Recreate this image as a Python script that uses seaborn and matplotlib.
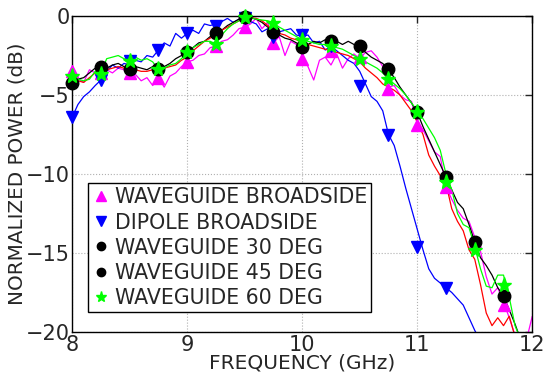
import numpy as np
import matplotlib
matplotlib.use("Agg")
import matplotlib.pyplot as plt
from matplotlib.lines import Line2D
import seaborn as sns

# frequency sweep (GHz), 50 MHz step
freq = np.round(np.arange(8.0, 12.001, 0.05), 2)

# normalized power (dB)
magenta_bs = [
    -3.5, -4.0, -4.2, -3.4, -3.6, -3.3, -3.4, -3.6, -3.3, -3.4,
    -3.8, -3.7, -4.1, -3.9, -4.4, -3.9, -4.5, -3.8, -3.6, -3.2,
    -2.9, -2.8, -2.5, -2.4, -2.0, -1.9, -1.6, -1.5, -1.2, -0.8,
    -0.7, -0.5, -0.15, -0.8, -0.4, -1.7, -1.3, -2.5, -1.6, -1.8,
    -2.5, -3.2, -4.05, -2.8, -2.6, -3.1, -2.4, -3.3, -2.7, -2.4,
    -2.7, -2.3, -2.2, -2.6, -3.2, -4.5, -4.4, -5.0, -5.3, -5.4,
    -6.8, -7.2, -7.9, -8.6, -8.9, -10.8, -11.6, -12.3, -12.8, -13.0,
    -14.0, -14.9, -16.5, -17.6, -17.2, -18.1, -19.1, -20.2, -20.8, -20.5,
    -19.0]
blue_dp = [
    -6.4, -5.6, -5.1, -4.8, -4.4, -4.05, -3.5, -3.1, -3.3, -3.0,
    -3.1, -2.8, -2.9, -2.5, -2.6, -2.15, -1.7, -1.9, -1.1, -1.4,
    -1.1, -0.9, -1.1, -0.5, -0.6, -0.5, -0.35, -0.15, -0.4, -0.2,
    -0.1, -0.35, -0.5, -1.0, -0.8, -1.4, -1.0, -0.9, -0.8, -1.2,
    -1.3, -1.2, -1.7, -1.6, -2.15, -1.9, -2.2, -2.5, -2.8, -3.0,
    -3.5, -4.3, -5.1, -5.4, -6.0, -7.5, -8.2, -9.5, -10.9, -12.2,
    -13.5, -14.8, -16.0, -16.6, -16.9, -17.2, -17.5, -17.9, -18.3, -19.1,
    -19.9, -20.6]
black_30 = [
    -4.2, -4.0, -3.9, -3.6, -3.3, -3.2, -3.3, -3.1, -3.0, -3.2,
    -3.4, -3.2, -3.3, -3.4, -3.2, -3.4, -3.2, -3.0, -2.7, -2.5,
    -2.3, -2.0, -1.7, -1.6, -1.3, -1.1, -0.9, -0.6, -0.4, -0.2,
    -0.1, -0.1, -0.2, -0.4, -0.7, -1.0, -1.2, -1.4, -1.5, -1.7,
    -1.9, -1.8, -1.6, -1.7, -1.5, -1.7, -1.6, -1.8, -1.6, -1.8,
    -1.9, -2.3, -2.6, -2.8, -3.0, -3.4, -3.9, -4.5, -5.0, -5.5,
    -6.1, -7.0, -7.8, -8.6, -9.4, -10.2, -11.0, -11.8, -12.2, -13.2,
    -14.3, -15.3, -15.8, -16.4, -17.2, -17.7, -18.6, -19.5, -20.5]
red_45 = [
    -3.8, -4.1, -4.2, -3.9, -3.6, -3.5, -3.4, -3.3, -3.2, -3.3,
    -3.4, -3.4, -3.5, -3.5, -3.4, -3.4, -3.3, -3.2, -3.1, -2.8,
    -2.6, -2.2, -1.9, -1.6, -1.4, -1.1, -0.9, -0.7, -0.5, -0.3,
    -0.15, -0.1, -0.15, -0.3, -0.6, -1.0, -1.1, -1.2, -1.4, -1.5,
    -1.7, -1.8, -1.9, -2.0, -2.1, -2.2, -2.3, -2.4, -2.5, -2.7,
    -2.9, -3.3, -3.6, -3.9, -4.3, -4.5, -4.7, -5.0, -5.5, -6.0,
    -6.7, -7.5, -8.8, -9.5, -10.1, -10.6, -12.2, -13.0, -13.6, -14.8,
    -15.4, -17.0, -18.8, -19.6, -19.1, -19.6, -19.0, -20.3]
green_60 = [
    -3.8, -4.0, -4.1, -4.0, -3.5, -3.6, -2.7, -2.6, -2.5, -2.7,
    -2.8, -2.6, -2.8, -2.7, -2.9, -3.4, -3.3, -3.1, -3.0, -2.7,
    -2.3, -2.0, -1.8, -1.6, -1.6, -1.8, -1.2, -0.8, -0.5, -0.3,
    -0.1, -0.1, -0.2, -0.25, -0.3, -0.45, -0.7, -0.9, -1.1, -1.3,
    -1.5, -1.6, -1.7, -1.8, -1.8, -1.9, -2.0, -2.1, -2.3, -2.5,
    -2.7, -2.9, -3.1, -3.3, -3.6, -4.0, -4.3, -4.6, -5.0, -5.5,
    -6.0, -6.5, -7.1, -7.7, -8.5, -10.0, -11.0, -12.5, -13.2, -13.4,
    -14.6, -16.0, -17.1, -17.2, -16.4, -16.4, -17.8, -19.6, -20.5]

# marker points every 250 MHz
mk_freq = [8.0, 8.25, 8.5, 8.75, 9.0, 9.25, 9.5, 9.75,
           10.0, 10.25, 10.5, 10.75, 11.0, 11.25, 11.5, 11.75]
mk_magenta = [-3.5, -3.6, -3.6, -3.9, -2.9, -1.9, -0.7, -1.7,
              -2.7, -2.2, -2.6, -4.6, -6.9, -10.8, -14.3, -18.3]
mk_blue = [-6.4, -4.05, -2.85, -2.15, -1.1, -0.6, -0.1, -1.3,
           -1.2, -1.9, -4.4, -7.5, -14.6, -17.2]
mk_black = [-4.26, -3.2, -3.37, -3.37, -2.26, -1.1, -0.08, -1.0,
            -1.94, -1.6, -1.9, -3.37, -6.1, -10.2, -14.3, -17.7]
mk_green = [-3.8, -3.67, -2.85, -3.37, -2.26, -1.8, -0.04, -0.46,
            -1.5, -1.9, -2.7, -4.0, -6.06, -10.5, -14.8, -17.0]

labels = ["WAVEGUIDE BROADSIDE", "DIPOLE BROADSIDE", "WAVEGUIDE 30 DEG",
          "WAVEGUIDE 45 DEG", "WAVEGUIDE 60 DEG"]

sns.set_style("white")
plt.rcParams["font.family"] = ["DejaVu Sans"]

fig = plt.figure(figsize=(5.51, 3.73), dpi=100)
ax = fig.add_axes([0.131, 0.110, 0.835, 0.847])

lw = 0.9
for y, c in [(magenta_bs, "#ff00ff"), (blue_dp, "#0000ff"), (black_30, "black"),
             (red_45, "#ff0000"), (green_60, "#00ff00")]:
    sns.lineplot(x=freq[:len(y)], y=y, color=c, linewidth=lw, ax=ax,
                 estimator=None, sort=False)

ax.plot(mk_freq, mk_magenta, "^", color="#ff00ff", ms=9, clip_on=False, zorder=4)
ax.plot(mk_freq[:len(mk_blue)], mk_blue, "v", color="#0000ff", ms=9, clip_on=False, zorder=4)
ax.plot(mk_freq, mk_black, "o", color="black", ms=9, clip_on=False, zorder=5)
ax.plot(mk_freq, mk_green, "*", color="#00ff00", ms=11, clip_on=False, zorder=6)

ax.set_xlim(8, 12)
ax.set_ylim(-20, 0)
ax.set_xticks([8, 9, 10, 11, 12])
ax.set_yticks([-20, -15, -10, -5, 0])
ax.grid(True, linestyle=":", color="#b0b0b0", linewidth=0.8)
ax.tick_params(direction="in", length=5, width=1, labelsize=15,
               top=True, right=True, pad=2)
for s in ax.spines.values():
    s.set_color("black")
    s.set_linewidth(1)

ax.set_xlabel("FREQUENCY (GHz)", fontsize=14.5, labelpad=-1)
ax.set_ylabel("NORMALIZED POWER (dB)", fontsize=14.3, labelpad=-1)

handles = [
    Line2D([], [], marker="^", color="#ff00ff", linestyle="none", ms=7),
    Line2D([], [], marker="v", color="#0000ff", linestyle="none", ms=7),
    Line2D([], [], marker="o", color="black", linestyle="none", ms=6),
    Line2D([], [], marker="o", color="black", linestyle="none", ms=6),
    Line2D([], [], marker="*", color="#00ff00", linestyle="none", ms=8),
]
leg = ax.legend(handles, labels, loc="lower left", bbox_to_anchor=(0.035, 0.063),
                fontsize=14.8, frameon=True, fancybox=False, framealpha=1,
                edgecolor="black", handlelength=0.8, handletextpad=0.3,
                borderpad=0.2, labelspacing=0.25, borderaxespad=0)
leg.get_frame().set_linewidth(1)

fig.savefig("out.png", dpi=100)
